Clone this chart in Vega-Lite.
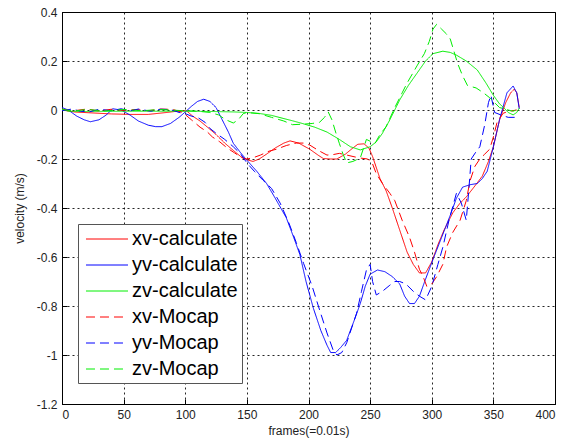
{
"$schema": "https://vega.github.io/schema/vega-lite/v6.json",
"width": 493, "height": 392,
"autosize": {"type": "none"},
"padding": {"left": 62, "top": 12, "right": 10, "bottom": 39},
"background": "white",
"config": {"view": {"stroke": "#000", "strokeWidth": 1}, "font": "Liberation Sans"},
"data": {"values": [
{"s":"xv-calculate","f":0,"v":0},{"s":"xv-calculate","f":10,"v":-0.008},{"s":"xv-calculate","f":25,"v":-0.012},{"s":"xv-calculate","f":40,"v":-0.016},{"s":"xv-calculate","f":55,"v":-0.018},{"s":"xv-calculate","f":70,"v":-0.018},{"s":"xv-calculate","f":85,"v":-0.01},{"s":"xv-calculate","f":95,"v":-0.004},{"s":"xv-calculate","f":101,"v":-0.003},{"s":"xv-calculate","f":106,"v":-0.025},{"s":"xv-calculate","f":112,"v":-0.045},{"s":"xv-calculate","f":118,"v":-0.07},{"s":"xv-calculate","f":125,"v":-0.1},{"s":"xv-calculate","f":132,"v":-0.135},{"s":"xv-calculate","f":139,"v":-0.165},{"s":"xv-calculate","f":145,"v":-0.19},{"s":"xv-calculate","f":150,"v":-0.203},{"s":"xv-calculate","f":155,"v":-0.21},{"s":"xv-calculate","f":160,"v":-0.2},{"s":"xv-calculate","f":166,"v":-0.18},{"s":"xv-calculate","f":173,"v":-0.155},{"s":"xv-calculate","f":180,"v":-0.135},{"s":"xv-calculate","f":185,"v":-0.126},{"s":"xv-calculate","f":192,"v":-0.135},{"s":"xv-calculate","f":201,"v":-0.16},{"s":"xv-calculate","f":208,"v":-0.185},{"s":"xv-calculate","f":212,"v":-0.198},{"s":"xv-calculate","f":218,"v":-0.2},{"s":"xv-calculate","f":223,"v":-0.2},{"s":"xv-calculate","f":230,"v":-0.18},{"s":"xv-calculate","f":236,"v":-0.155},{"s":"xv-calculate","f":240,"v":-0.14},{"s":"xv-calculate","f":245,"v":-0.138},{"s":"xv-calculate","f":249,"v":-0.155},{"s":"xv-calculate","f":252,"v":-0.19},{"s":"xv-calculate","f":258,"v":-0.28},{"s":"xv-calculate","f":263,"v":-0.33},{"s":"xv-calculate","f":268,"v":-0.4},{"s":"xv-calculate","f":274,"v":-0.49},{"s":"xv-calculate","f":280,"v":-0.58},{"s":"xv-calculate","f":285,"v":-0.63},{"s":"xv-calculate","f":290,"v":-0.665},{"s":"xv-calculate","f":295,"v":-0.665},{"s":"xv-calculate","f":300,"v":-0.62},{"s":"xv-calculate","f":305,"v":-0.55},{"s":"xv-calculate","f":310,"v":-0.49},{"s":"xv-calculate","f":317,"v":-0.42},{"s":"xv-calculate","f":323,"v":-0.38},{"s":"xv-calculate","f":328,"v":-0.355},{"s":"xv-calculate","f":335,"v":-0.31},{"s":"xv-calculate","f":341,"v":-0.27},{"s":"xv-calculate","f":346,"v":-0.21},{"s":"xv-calculate","f":350,"v":-0.15},{"s":"xv-calculate","f":355,"v":-0.04},{"s":"xv-calculate","f":360,"v":0.03},{"s":"xv-calculate","f":364,"v":0.07},{"s":"xv-calculate","f":367,"v":0.085},{"s":"xv-calculate","f":369,"v":0.07},{"s":"xv-calculate","f":371,"v":0.01},
{"s":"yv-calculate","f":0,"v":0.01},{"s":"yv-calculate","f":5,"v":0.0},{"s":"yv-calculate","f":12,"v":-0.025},{"s":"yv-calculate","f":18,"v":-0.04},{"s":"yv-calculate","f":23,"v":-0.048},{"s":"yv-calculate","f":30,"v":-0.04},{"s":"yv-calculate","f":36,"v":-0.02},{"s":"yv-calculate","f":41,"v":0.005},{"s":"yv-calculate","f":48,"v":0.0},{"s":"yv-calculate","f":55,"v":-0.02},{"s":"yv-calculate","f":62,"v":-0.045},{"s":"yv-calculate","f":70,"v":-0.062},{"s":"yv-calculate","f":76,"v":-0.068},{"s":"yv-calculate","f":81,"v":-0.068},{"s":"yv-calculate","f":88,"v":-0.055},{"s":"yv-calculate","f":95,"v":-0.03},{"s":"yv-calculate","f":100,"v":-0.008},{"s":"yv-calculate","f":105,"v":0.015},{"s":"yv-calculate","f":110,"v":0.035},{"s":"yv-calculate","f":115,"v":0.044},{"s":"yv-calculate","f":120,"v":0.035},{"s":"yv-calculate","f":125,"v":0.01},{"s":"yv-calculate","f":130,"v":-0.04},{"s":"yv-calculate","f":135,"v":-0.09},{"s":"yv-calculate","f":139,"v":-0.136},{"s":"yv-calculate","f":145,"v":-0.175},{"s":"yv-calculate","f":150,"v":-0.205},{"s":"yv-calculate","f":158,"v":-0.25},{"s":"yv-calculate","f":166,"v":-0.3},{"s":"yv-calculate","f":173,"v":-0.36},{"s":"yv-calculate","f":182,"v":-0.44},{"s":"yv-calculate","f":188,"v":-0.52},{"s":"yv-calculate","f":193,"v":-0.59},{"s":"yv-calculate","f":198,"v":-0.7},{"s":"yv-calculate","f":204,"v":-0.81},{"s":"yv-calculate","f":210,"v":-0.9},{"s":"yv-calculate","f":215,"v":-0.96},{"s":"yv-calculate","f":218,"v":-0.99},{"s":"yv-calculate","f":222,"v":-0.99},{"s":"yv-calculate","f":226,"v":-0.97},{"s":"yv-calculate","f":231,"v":-0.94},{"s":"yv-calculate","f":237,"v":-0.86},{"s":"yv-calculate","f":242,"v":-0.79},{"s":"yv-calculate","f":246,"v":-0.72},{"s":"yv-calculate","f":250,"v":-0.67},{"s":"yv-calculate","f":256,"v":-0.653},{"s":"yv-calculate","f":262,"v":-0.66},{"s":"yv-calculate","f":268,"v":-0.68},{"s":"yv-calculate","f":274,"v":-0.71},{"s":"yv-calculate","f":278,"v":-0.76},{"s":"yv-calculate","f":282,"v":-0.79},{"s":"yv-calculate","f":286,"v":-0.79},{"s":"yv-calculate","f":290,"v":-0.76},{"s":"yv-calculate","f":295,"v":-0.69},{"s":"yv-calculate","f":301,"v":-0.61},{"s":"yv-calculate","f":308,"v":-0.52},{"s":"yv-calculate","f":315,"v":-0.43},{"s":"yv-calculate","f":320,"v":-0.36},{"s":"yv-calculate","f":325,"v":-0.315},{"s":"yv-calculate","f":331,"v":-0.305},{"s":"yv-calculate","f":337,"v":-0.3},{"s":"yv-calculate","f":341,"v":-0.28},{"s":"yv-calculate","f":345,"v":-0.25},{"s":"yv-calculate","f":350,"v":-0.15},{"s":"yv-calculate","f":355,"v":-0.04},{"s":"yv-calculate","f":361,"v":0.07},{"s":"yv-calculate","f":366,"v":0.098},{"s":"yv-calculate","f":369,"v":0.07},{"s":"yv-calculate","f":371,"v":0.005},
{"s":"zv-calculate","f":0,"v":0.005},{"s":"zv-calculate","f":5,"v":-0.005},{"s":"zv-calculate","f":20,"v":-0.006},{"s":"zv-calculate","f":50,"v":-0.005},{"s":"zv-calculate","f":80,"v":-0.005},{"s":"zv-calculate","f":101,"v":-0.005},{"s":"zv-calculate","f":120,"v":-0.006},{"s":"zv-calculate","f":140,"v":-0.008},{"s":"zv-calculate","f":150,"v":-0.01},{"s":"zv-calculate","f":160,"v":-0.014},{"s":"zv-calculate","f":170,"v":-0.022},{"s":"zv-calculate","f":180,"v":-0.035},{"s":"zv-calculate","f":187,"v":-0.044},{"s":"zv-calculate","f":195,"v":-0.055},{"s":"zv-calculate","f":205,"v":-0.07},{"s":"zv-calculate","f":215,"v":-0.09},{"s":"zv-calculate","f":225,"v":-0.12},{"s":"zv-calculate","f":234,"v":-0.15},{"s":"zv-calculate","f":242,"v":-0.163},{"s":"zv-calculate","f":250,"v":-0.15},{"s":"zv-calculate","f":255,"v":-0.13},{"s":"zv-calculate","f":260,"v":-0.095},{"s":"zv-calculate","f":266,"v":-0.04},{"s":"zv-calculate","f":274,"v":0.041},{"s":"zv-calculate","f":281,"v":0.1},{"s":"zv-calculate","f":288,"v":0.15},{"s":"zv-calculate","f":295,"v":0.2},{"s":"zv-calculate","f":301,"v":0.23},{"s":"zv-calculate","f":309,"v":0.24},{"s":"zv-calculate","f":315,"v":0.235},{"s":"zv-calculate","f":320,"v":0.224},{"s":"zv-calculate","f":328,"v":0.2},{"s":"zv-calculate","f":337,"v":0.163},{"s":"zv-calculate","f":344,"v":0.11},{"s":"zv-calculate","f":350,"v":0.06},{"s":"zv-calculate","f":355,"v":0.025},{"s":"zv-calculate","f":358,"v":0.012},{"s":"zv-calculate","f":362,"v":-0.01},{"s":"zv-calculate","f":366,"v":-0.02},{"s":"zv-calculate","f":369,"v":-0.01},{"s":"zv-calculate","f":371,"v":0.008},
{"s":"xv-Mocap","f":0,"v":0.003},{"s":"xv-Mocap","f":10,"v":-0.003},{"s":"xv-Mocap","f":20,"v":0.004},{"s":"xv-Mocap","f":30,"v":-0.004},{"s":"xv-Mocap","f":40,"v":0.003},{"s":"xv-Mocap","f":50,"v":-0.002},{"s":"xv-Mocap","f":60,"v":0.002},{"s":"xv-Mocap","f":70,"v":-0.003},{"s":"xv-Mocap","f":80,"v":0.004},{"s":"xv-Mocap","f":90,"v":0.002},{"s":"xv-Mocap","f":98,"v":-0.01},{"s":"xv-Mocap","f":105,"v":-0.04},{"s":"xv-Mocap","f":112,"v":-0.07},{"s":"xv-Mocap","f":118,"v":-0.09},{"s":"xv-Mocap","f":122,"v":-0.11},{"s":"xv-Mocap","f":128,"v":-0.13},{"s":"xv-Mocap","f":134,"v":-0.155},{"s":"xv-Mocap","f":140,"v":-0.175},{"s":"xv-Mocap","f":146,"v":-0.195},{"s":"xv-Mocap","f":150,"v":-0.2},{"s":"xv-Mocap","f":155,"v":-0.195},{"s":"xv-Mocap","f":161,"v":-0.184},{"s":"xv-Mocap","f":168,"v":-0.168},{"s":"xv-Mocap","f":174,"v":-0.16},{"s":"xv-Mocap","f":182,"v":-0.145},{"s":"xv-Mocap","f":190,"v":-0.135},{"s":"xv-Mocap","f":196,"v":-0.135},{"s":"xv-Mocap","f":201,"v":-0.143},{"s":"xv-Mocap","f":208,"v":-0.165},{"s":"xv-Mocap","f":215,"v":-0.184},{"s":"xv-Mocap","f":220,"v":-0.182},{"s":"xv-Mocap","f":225,"v":-0.177},{"s":"xv-Mocap","f":232,"v":-0.185},{"s":"xv-Mocap","f":238,"v":-0.192},{"s":"xv-Mocap","f":242,"v":-0.196},{"s":"xv-Mocap","f":248,"v":-0.2},{"s":"xv-Mocap","f":252,"v":-0.22},{"s":"xv-Mocap","f":255,"v":-0.26},{"s":"xv-Mocap","f":260,"v":-0.3},{"s":"xv-Mocap","f":266,"v":-0.34},{"s":"xv-Mocap","f":270,"v":-0.37},{"s":"xv-Mocap","f":276,"v":-0.45},{"s":"xv-Mocap","f":282,"v":-0.52},{"s":"xv-Mocap","f":286,"v":-0.58},{"s":"xv-Mocap","f":290,"v":-0.65},{"s":"xv-Mocap","f":293,"v":-0.68},{"s":"xv-Mocap","f":296,"v":-0.72},{"s":"xv-Mocap","f":300,"v":-0.71},{"s":"xv-Mocap","f":304,"v":-0.68},{"s":"xv-Mocap","f":309,"v":-0.63},{"s":"xv-Mocap","f":312,"v":-0.56},{"s":"xv-Mocap","f":317,"v":-0.5},{"s":"xv-Mocap","f":323,"v":-0.45},{"s":"xv-Mocap","f":328,"v":-0.37},{"s":"xv-Mocap","f":331,"v":-0.29},{"s":"xv-Mocap","f":335,"v":-0.23},{"s":"xv-Mocap","f":339,"v":-0.2},{"s":"xv-Mocap","f":343,"v":-0.18},{"s":"xv-Mocap","f":347,"v":-0.16},{"s":"xv-Mocap","f":350,"v":-0.11},{"s":"xv-Mocap","f":353,"v":-0.05},{"s":"xv-Mocap","f":358,"v":-0.013},{"s":"xv-Mocap","f":363,"v":-0.005},{"s":"xv-Mocap","f":369,"v":0},
{"s":"yv-Mocap","f":0,"v":-0.003},{"s":"yv-Mocap","f":8,"v":0.004},{"s":"yv-Mocap","f":15,"v":-0.005},{"s":"yv-Mocap","f":22,"v":-0.008},{"s":"yv-Mocap","f":30,"v":0.003},{"s":"yv-Mocap","f":40,"v":-0.003},{"s":"yv-Mocap","f":48,"v":0.005},{"s":"yv-Mocap","f":55,"v":-0.004},{"s":"yv-Mocap","f":62,"v":0.004},{"s":"yv-Mocap","f":72,"v":-0.005},{"s":"yv-Mocap","f":80,"v":0.003},{"s":"yv-Mocap","f":88,"v":0.002},{"s":"yv-Mocap","f":95,"v":-0.01},{"s":"yv-Mocap","f":100,"v":-0.015},{"s":"yv-Mocap","f":105,"v":-0.025},{"s":"yv-Mocap","f":110,"v":-0.03},{"s":"yv-Mocap","f":116,"v":-0.05},{"s":"yv-Mocap","f":120,"v":-0.075},{"s":"yv-Mocap","f":125,"v":-0.095},{"s":"yv-Mocap","f":132,"v":-0.12},{"s":"yv-Mocap","f":139,"v":-0.15},{"s":"yv-Mocap","f":145,"v":-0.18},{"s":"yv-Mocap","f":150,"v":-0.216},{"s":"yv-Mocap","f":156,"v":-0.25},{"s":"yv-Mocap","f":163,"v":-0.286},{"s":"yv-Mocap","f":170,"v":-0.32},{"s":"yv-Mocap","f":177,"v":-0.38},{"s":"yv-Mocap","f":184,"v":-0.46},{"s":"yv-Mocap","f":190,"v":-0.54},{"s":"yv-Mocap","f":196,"v":-0.626},{"s":"yv-Mocap","f":203,"v":-0.72},{"s":"yv-Mocap","f":209,"v":-0.816},{"s":"yv-Mocap","f":215,"v":-0.91},{"s":"yv-Mocap","f":220,"v":-0.98},{"s":"yv-Mocap","f":223,"v":-1.0},{"s":"yv-Mocap","f":227,"v":-0.99},{"s":"yv-Mocap","f":231,"v":-0.95},{"s":"yv-Mocap","f":235,"v":-0.89},{"s":"yv-Mocap","f":239,"v":-0.83},{"s":"yv-Mocap","f":243,"v":-0.74},{"s":"yv-Mocap","f":247,"v":-0.653},{"s":"yv-Mocap","f":250,"v":-0.63},{"s":"yv-Mocap","f":252,"v":-0.7},{"s":"yv-Mocap","f":255,"v":-0.755},{"s":"yv-Mocap","f":260,"v":-0.74},{"s":"yv-Mocap","f":266,"v":-0.715},{"s":"yv-Mocap","f":270,"v":-0.7},{"s":"yv-Mocap","f":274,"v":-0.7},{"s":"yv-Mocap","f":279,"v":-0.71},{"s":"yv-Mocap","f":285,"v":-0.74},{"s":"yv-Mocap","f":290,"v":-0.76},{"s":"yv-Mocap","f":295,"v":-0.775},{"s":"yv-Mocap","f":300,"v":-0.72},{"s":"yv-Mocap","f":305,"v":-0.63},{"s":"yv-Mocap","f":309,"v":-0.56},{"s":"yv-Mocap","f":314,"v":-0.45},{"s":"yv-Mocap","f":320,"v":-0.34},{"s":"yv-Mocap","f":324,"v":-0.38},{"s":"yv-Mocap","f":328,"v":-0.45},{"s":"yv-Mocap","f":330,"v":-0.33},{"s":"yv-Mocap","f":332,"v":-0.2},{"s":"yv-Mocap","f":336,"v":-0.17},{"s":"yv-Mocap","f":339,"v":-0.15},{"s":"yv-Mocap","f":343,"v":-0.06},{"s":"yv-Mocap","f":346,"v":0.03},{"s":"yv-Mocap","f":348,"v":0.06},{"s":"yv-Mocap","f":351,"v":-0.01},{"s":"yv-Mocap","f":356,"v":-0.02},{"s":"yv-Mocap","f":362,"v":-0.03},{"s":"yv-Mocap","f":371,"v":-0.03},
{"s":"zv-Mocap","f":0,"v":0.002},{"s":"zv-Mocap","f":10,"v":-0.004},{"s":"zv-Mocap","f":20,"v":0.002},{"s":"zv-Mocap","f":35,"v":-0.004},{"s":"zv-Mocap","f":50,"v":0.002},{"s":"zv-Mocap","f":65,"v":-0.003},{"s":"zv-Mocap","f":80,"v":0.002},{"s":"zv-Mocap","f":95,"v":-0.002},{"s":"zv-Mocap","f":110,"v":-0.005},{"s":"zv-Mocap","f":120,"v":-0.01},{"s":"zv-Mocap","f":127,"v":-0.02},{"s":"zv-Mocap","f":133,"v":-0.04},{"s":"zv-Mocap","f":139,"v":-0.053},{"s":"zv-Mocap","f":143,"v":-0.04},{"s":"zv-Mocap","f":147,"v":-0.015},{"s":"zv-Mocap","f":150,"v":-0.01},{"s":"zv-Mocap","f":160,"v":-0.015},{"s":"zv-Mocap","f":170,"v":-0.03},{"s":"zv-Mocap","f":180,"v":-0.045},{"s":"zv-Mocap","f":187,"v":-0.06},{"s":"zv-Mocap","f":195,"v":-0.058},{"s":"zv-Mocap","f":203,"v":-0.055},{"s":"zv-Mocap","f":209,"v":-0.05},{"s":"zv-Mocap","f":213,"v":-0.03},{"s":"zv-Mocap","f":216,"v":-0.008},{"s":"zv-Mocap","f":219,"v":-0.04},{"s":"zv-Mocap","f":222,"v":-0.09},{"s":"zv-Mocap","f":225,"v":-0.136},{"s":"zv-Mocap","f":228,"v":-0.18},{"s":"zv-Mocap","f":231,"v":-0.216},{"s":"zv-Mocap","f":236,"v":-0.21},{"s":"zv-Mocap","f":242,"v":-0.196},{"s":"zv-Mocap","f":245,"v":-0.15},{"s":"zv-Mocap","f":247,"v":-0.12},{"s":"zv-Mocap","f":251,"v":-0.13},{"s":"zv-Mocap","f":254,"v":-0.136},{"s":"zv-Mocap","f":258,"v":-0.1},{"s":"zv-Mocap","f":263,"v":-0.068},{"s":"zv-Mocap","f":270,"v":0.01},{"s":"zv-Mocap","f":276,"v":0.07},{"s":"zv-Mocap","f":280,"v":0.11},{"s":"zv-Mocap","f":288,"v":0.18},{"s":"zv-Mocap","f":294,"v":0.23},{"s":"zv-Mocap","f":298,"v":0.28},{"s":"zv-Mocap","f":301,"v":0.33},{"s":"zv-Mocap","f":304,"v":0.35},{"s":"zv-Mocap","f":308,"v":0.33},{"s":"zv-Mocap","f":312,"v":0.31},{"s":"zv-Mocap","f":315,"v":0.29},{"s":"zv-Mocap","f":318,"v":0.24},{"s":"zv-Mocap","f":321,"v":0.19},{"s":"zv-Mocap","f":325,"v":0.14},{"s":"zv-Mocap","f":329,"v":0.1},{"s":"zv-Mocap","f":336,"v":0.09},{"s":"zv-Mocap","f":342,"v":0.07},{"s":"zv-Mocap","f":347,"v":0.05},{"s":"zv-Mocap","f":355,"v":0.01},{"s":"zv-Mocap","f":362,"v":0.0},{"s":"zv-Mocap","f":366,"v":-0.005},{"s":"zv-Mocap","f":371,"v":0.005}
]},
"mark": {"type": "line", "strokeWidth": 1, "clip": true},
"encoding": {
  "x": {"field": "f", "type": "quantitative",
    "scale": {"domain": [0, 400], "nice": false},
    "axis": {"values": [0,50,100,150,200,250,300,350,400], "title": "frames(=0.01s)",
      "grid": true, "gridColor": "#000", "gridDash": [2,3], "gridOpacity": 0.85,
      "domainColor": "#000", "tickColor": "#000", "tickSize": -5, "labelPadding": 10,
      "labelFont": "Liberation Sans", "labelFontSize": 12, "labelColor": "#222",
      "titleFont": "Liberation Sans", "titleFontSize": 12, "titleFontWeight": "normal", "titleColor": "#222", "titlePadding": 5}},
  "y": {"field": "v", "type": "quantitative",
    "scale": {"domain": [-1.2, 0.4], "nice": false, "zero": false},
    "axis": {"values": [-1.2,-1,-0.8,-0.6,-0.4,-0.2,0,0.2,0.4], "labelExpr": "'' + datum.value", "title": "velocity (m/s)",
      "grid": true, "gridColor": "#000", "gridDash": [2,3], "gridOpacity": 0.85,
      "domainColor": "#000", "tickColor": "#000", "tickSize": -5, "labelPadding": 10,
      "labelFont": "Liberation Sans", "labelFontSize": 12, "labelColor": "#222",
      "titleFont": "Liberation Sans", "titleFontSize": 12, "titleFontWeight": "normal", "titleColor": "#222",
      "titleX": -43, "titleY": 196, "titleAngle": 270, "titleBaseline": "middle", "titleAlign": "center"}},
  "color": {"field": "s", "type": "nominal",
    "scale": {"domain": ["xv-calculate","yv-calculate","zv-calculate","xv-Mocap","yv-Mocap","zv-Mocap"],
              "range": ["#ff0000","#0000ff","#00ee00","#ff0000","#0000ff","#00ee00"]},
    "legend": {"title": null, "orient": "none", "legendX": 16, "legendY": 212, "symbolType": "M-0.667,0H3.333", "symbolSize": 441, "symbolStrokeWidth": 1, "symbolFillColor": "transparent",
      "labelFont": "Liberation Sans", "labelFontSize": 20, "labelColor": "#000", "labelOffset": 28, "labelLimit": 300,
      "strokeColor": "#555", "fillColor": "#fff", "padding": 4, "rowPadding": 5}},
  "strokeDash": {"field": "s", "type": "nominal",
    "scale": {"domain": ["xv-calculate","yv-calculate","zv-calculate","xv-Mocap","yv-Mocap","zv-Mocap"],
              "range": [[1,0],[1,0],[1,0],[9,5],[9,5],[9,5]]},
    "legend": {"title": null, "orient": "none", "legendX": 16, "legendY": 212, "symbolType": "M-0.667,0H3.333", "symbolSize": 441, "symbolStrokeWidth": 1, "symbolFillColor": "transparent",
      "labelFont": "Liberation Sans", "labelFontSize": 20, "labelColor": "#000", "labelOffset": 28, "labelLimit": 300,
      "strokeColor": "#555", "fillColor": "#fff", "padding": 4, "rowPadding": 5}}
}
}
